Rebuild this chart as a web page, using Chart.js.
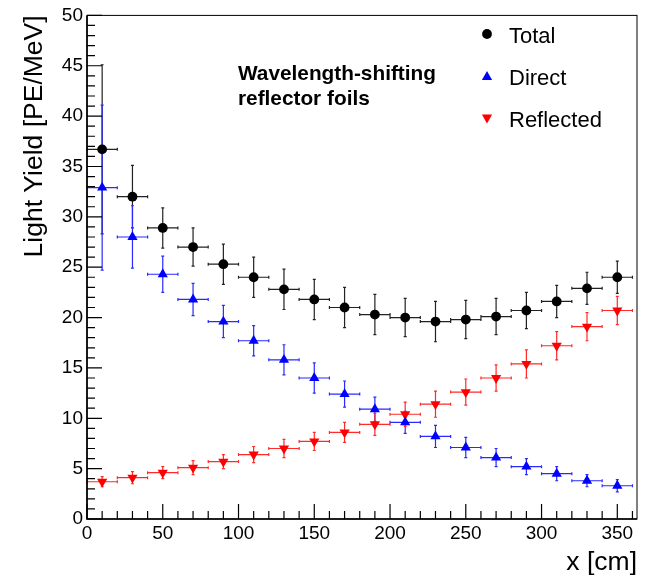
<!DOCTYPE html>
<html>
<head>
<meta charset="utf-8">
<script src="https://cdn.jsdelivr.net/npm/chart.js@4.4.1/dist/chart.umd.min.js"></script>
<style>
html, body { margin: 0; padding: 0; background: #fff; }
#wrap { width: 646px; height: 577px; }
</style>
</head>
<body>
<div id="wrap"><canvas id="lyChart" width="646" height="577"></canvas></div>
<script>
// bin centres along the bar [cm], each bin is 20 cm wide
const positions = [10, 30, 50, 70, 90, 110, 130, 150, 170, 190, 210, 230, 250, 270, 290, 310, 330, 350];
const binHalfWidth = 10;

const totalYield = [36.7, 32.0, 28.9, 27.0, 25.3, 24.0, 22.8, 21.8, 21.0, 20.3, 20.0, 19.6, 19.8, 20.1, 20.7, 21.6, 22.9, 24.0];
const totalErr   = [8.4, 3.1, 2.0, 1.9, 2.0, 2.0, 2.0, 2.0, 2.0, 2.0, 1.9, 2.0, 1.9, 1.8, 1.8, 1.6, 1.6, 1.6];

const directYield = [32.9, 28.0, 24.3, 21.8, 19.6, 17.7, 15.8, 14.0, 12.4, 10.9, 9.6, 8.2, 7.1, 6.1, 5.2, 4.5, 3.8, 3.3];
const directErr   = [8.2, 3.1, 1.8, 1.6, 1.6, 1.5, 1.5, 1.5, 1.3, 1.2, 1.1, 1.1, 1.0, 0.9, 0.8, 0.7, 0.6, 0.6];

const reflectedYield = [3.7, 4.1, 4.6, 5.1, 5.7, 6.4, 7.0, 7.7, 8.6, 9.4, 10.4, 11.4, 12.6, 14.0, 15.4, 17.2, 19.1, 20.7];
const reflectedErr   = [0.5, 0.6, 0.6, 0.7, 0.7, 0.8, 0.9, 0.9, 1.0, 1.1, 1.2, 1.3, 1.3, 1.3, 1.4, 1.4, 1.4, 1.4];

const xTickLabels = [0, 50, 100, 150, 200, 250, 300, 350];
const yTickLabels = [0, 5, 10, 15, 20, 25, 30, 35, 40, 45, 50];

const FONT = '"Liberation Sans", Arial, Helvetica, sans-serif';

function toPoints(ys, errs) {
	return positions.map((x, i) => ({ x: x, y: ys[i], err: errs[i] }));
}

// ROOT style: error bars, inward ticks, frame, legend, labels
const rootStyle = {
	id: 'rootStyle',
	beforeDatasetsDraw(chart) {
		const ctx = chart.ctx;
		const xs = chart.scales.x;
		const ys = chart.scales.y;
		const cap = 1.5;
		ctx.save();
		chart.data.datasets.forEach((ds) => {
			ctx.strokeStyle = ds.barColor;
			ctx.lineWidth = 1.2;
			ds.data.forEach((p) => {
				const px = xs.getPixelForValue(p.x);
				const py = ys.getPixelForValue(p.y);
				const x0 = xs.getPixelForValue(p.x - binHalfWidth);
				const x1 = xs.getPixelForValue(p.x + binHalfWidth);
				const y0 = ys.getPixelForValue(p.y - p.err);
				const y1 = ys.getPixelForValue(p.y + p.err);
				ctx.beginPath();
				ctx.moveTo(x0, py); ctx.lineTo(x1, py);
				ctx.moveTo(px, y0); ctx.lineTo(px, y1);
				ctx.moveTo(x0, py - cap); ctx.lineTo(x0, py + cap);
				ctx.moveTo(x1, py - cap); ctx.lineTo(x1, py + cap);
				ctx.moveTo(px - cap, y0); ctx.lineTo(px + cap, y0);
				ctx.moveTo(px - cap, y1); ctx.lineTo(px + cap, y1);
				ctx.stroke();
			});
		});
		ctx.restore();
	},
	afterDraw(chart) {
		const ctx = chart.ctx;
		const area = chart.chartArea;
		const xs = chart.scales.x;
		const ys = chart.scales.y;
		ctx.save();

		// frame
		ctx.strokeStyle = '#000';
		ctx.lineWidth = 1;
		ctx.strokeRect(area.left, area.top, area.right - area.left, area.bottom - area.top);
		ctx.lineWidth = 1.6;
		ctx.beginPath();
		ctx.moveTo(area.left, area.top);
		ctx.lineTo(area.left, area.bottom);
		ctx.lineTo(area.right, area.bottom);
		ctx.stroke();

		// inward ticks
		ctx.lineWidth = 1.2;
		ctx.beginPath();
		for (let v = 0; v <= xs.max; v += 10) {
			const px = xs.getPixelForValue(v);
			const len = v % 50 === 0 ? 15 : 8;
			ctx.moveTo(px, area.bottom);
			ctx.lineTo(px, area.bottom - len);
		}
		for (let v = 0; v <= ys.max; v += 1) {
			const py = ys.getPixelForValue(v);
			const len = v % 5 === 0 ? 15 : 8;
			ctx.moveTo(area.left, py);
			ctx.lineTo(area.left + len, py);
		}
		ctx.stroke();

		// axis titles
		ctx.fillStyle = '#000';
		ctx.font = '26.5px ' + FONT;
		ctx.textAlign = 'right';
		ctx.textBaseline = 'alphabetic';
		ctx.fillText('x [cm]', area.right, 570);
		ctx.save();
		ctx.translate(41.5, area.top);
		ctx.rotate(-Math.PI / 2);
		ctx.fillText('Light Yield [PE/MeV]', 0, 0);
		ctx.restore();

		// annotation
		ctx.font = 'bold 20.8px ' + FONT;
		ctx.textAlign = 'left';
		ctx.fillText('Wavelength-shifting', 238, 79.5);
		ctx.fillText('reflector foils', 238, 105);

		// legend
		ctx.font = '22px ' + FONT;
		const markerY = [34, 77, 117.5];
		const textY = [43, 85, 127];
		chart.data.datasets.forEach((ds, i) => {
			ctx.fillStyle = ds.backgroundColor;
			ctx.strokeStyle = ds.backgroundColor;
			Chart.helpers.drawPoint(ctx, {
				pointStyle: ds.pointStyle,
				radius: ds.pointRadius,
				rotation: ds.pointRotation || 0,
				borderWidth: 0
			}, 487, markerY[i]);
			ctx.fillStyle = '#000';
			ctx.fillText(ds.label, 509, textY[i]);
		});
		ctx.restore();
	}
};

new Chart(document.getElementById('lyChart'), {
	type: 'scatter',
	data: {
		datasets: [
			{
				label: 'Total',
				data: toPoints(totalYield, totalErr),
				pointStyle: 'circle',
				pointRadius: 4.9,
				backgroundColor: '#000',
				borderWidth: 0,
				barColor: '#222'
			},
			{
				label: 'Direct',
				data: toPoints(directYield, directErr),
				pointStyle: 'triangle',
				pointRadius: 5.9,
				backgroundColor: '#0000ff',
				borderWidth: 0,
				barColor: '#2a2aff'
			},
			{
				label: 'Reflected',
				data: toPoints(reflectedYield, reflectedErr),
				pointStyle: 'triangle',
				pointRotation: 180,
				pointRadius: 5.9,
				backgroundColor: '#ff0000',
				borderWidth: 0,
				barColor: '#ff2a2a'
			}
		]
	},
	options: {
		responsive: false,
		animation: false,
		devicePixelRatio: 1,
		layout: { padding: { top: 13, right: 9, left: 0, bottom: 0 } },
		plugins: {
			legend: { display: false },
			tooltip: { enabled: false }
		},
		scales: {
			x: {
				type: 'linear',
				min: 0,
				max: 363,
				grid: { display: false, drawTicks: false },
				border: { display: false },
				afterBuildTicks: (scale) => { scale.ticks = xTickLabels.map(v => ({ value: v })); },
				afterFit: (scale) => { scale.height = 58; },
				ticks: {
					color: '#000',
					padding: 3,
					maxRotation: 0,
					autoSkip: false,
					font: { family: FONT, size: 19 }
				}
			},
			y: {
				type: 'linear',
				min: 0,
				max: 50,
				grid: { display: false, drawTicks: false },
				border: { display: false },
				afterBuildTicks: (scale) => { scale.ticks = yTickLabels.map(v => ({ value: v })); },
				afterFit: (scale) => { scale.width = 87; },
				ticks: {
					color: '#000',
					padding: 4,
					autoSkip: false,
					font: { family: FONT, size: 19 }
				}
			}
		}
	},
	plugins: [rootStyle]
});
</script>
</body>
</html>
